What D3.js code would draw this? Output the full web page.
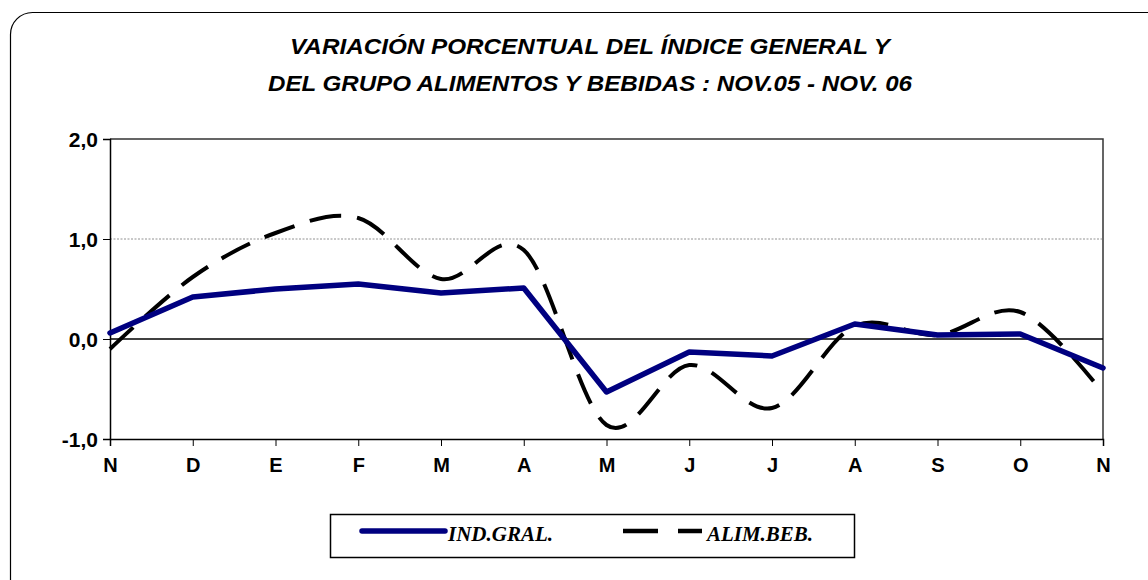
<!DOCTYPE html>
<html>
<head>
<meta charset="utf-8">
<script src="https://cdn.jsdelivr.net/npm/d3@7/dist/d3.min.js"></script>
<style>
  body { margin: 0; background: #fff; }
</style>
</head>
<body>
<div id="chart"></div>
<script>
// data
const months = ["N", "D", "E", "F", "M", "A", "M", "J", "J", "A", "S", "O", "N"];
const indGral = [0.06, 0.42, 0.50, 0.55, 0.46, 0.51, -0.53, -0.13, -0.17, 0.15, 0.04, 0.05, -0.29];
const alimBeb = [-0.10, 0.62, 1.06, 1.21, 0.60, 0.89, -0.86, -0.26, -0.69, 0.13, 0.04, 0.27, -0.54];
const yTicks = [-1, 0, 1, 2];

const width = 1148, height = 580;
const plotLeft = 110, plotRight = 1103, plotTop = 139, plotBottom = 439;

const svg = d3.select("#chart").append("svg")
  .attr("width", width)
  .attr("height", height);

// outer frame with rounded corners
svg.append("rect")
  .attr("x", 10.5).attr("y", 12.5)
  .attr("width", 1160).attr("height", 600)
  .attr("rx", 22)
  .attr("fill", "none")
  .attr("stroke", "#000")
  .attr("stroke-width", 1.2);

// title
const titleFont = "'Liberation Sans Narrow', 'Arial Narrow', 'Liberation Sans', sans-serif";
const title = svg.append("g")
  .attr("font-family", titleFont)
  .attr("font-style", "italic")
  .attr("font-weight", "bold")
  .attr("font-size", 22)
  .attr("text-anchor", "middle");
title.append("text").attr("x", 590).attr("y", 54)
  .attr("textLength", 600).attr("lengthAdjust", "spacingAndGlyphs")
  .text("VARIACIÓN PORCENTUAL DEL ÍNDICE GENERAL Y");
title.append("text").attr("x", 590).attr("y", 91)
  .attr("textLength", 644).attr("lengthAdjust", "spacingAndGlyphs")
  .text("DEL GRUPO ALIMENTOS Y BEBIDAS : NOV.05 - NOV. 06");

const x = d3.scalePoint()
  .domain(d3.range(months.length))
  .range([plotLeft, plotRight]);

const y = d3.scaleLinear()
  .domain([-1, 2])
  .range([plotBottom, plotTop]);

// plot frame (top and right)
svg.append("path")
  .attr("d", `M${plotLeft},${plotTop}H${plotRight}V${plotBottom}`)
  .attr("fill", "none")
  .attr("stroke", "#333")
  .attr("stroke-width", 1.5);

// gridline at 1.0
svg.append("line")
  .attr("x1", plotLeft).attr("x2", plotRight)
  .attr("y1", y(1)).attr("y2", y(1))
  .attr("stroke", "#777")
  .attr("stroke-width", 0.8)
  .attr("stroke-dasharray", "2,1.5");

// zero line
svg.append("line")
  .attr("x1", plotLeft).attr("x2", plotRight)
  .attr("y1", y(0)).attr("y2", y(0))
  .attr("stroke", "#000")
  .attr("stroke-width", 1.5);

// y axis
const yAxis = svg.append("g")
  .attr("transform", `translate(${plotLeft},0)`)
  .call(d3.axisLeft(y).tickValues(yTicks).tickSize(7).tickPadding(5)
    .tickFormat(d => d3.format(".1f")(d).replace(".", ",").replace("−", "-")));

// x axis
const xAxis = svg.append("g")
  .attr("transform", `translate(0,${plotBottom})`)
  .call(d3.axisBottom(x).tickSize(7).tickPadding(19).tickFormat(i => months[i]));

[yAxis, xAxis].forEach(g => {
  g.attr("font-family", "'Liberation Sans', Arial, sans-serif");
  g.select(".domain").attr("stroke", "#000").attr("stroke-width", 1.5);
  g.selectAll(".tick line").attr("stroke", "#000").attr("stroke-width", 1);
  g.selectAll("text")
    .attr("fill", "#000")
    .attr("font-weight", "bold")
    .attr("dy", "0.35em");
});
yAxis.attr("font-size", 21);
xAxis.attr("font-size", 20);

// lines
const lineStraight = d3.line()
  .x((d, i) => x(i))
  .y(d => y(d));

const lineSmooth = d3.line()
  .x((d, i) => x(i))
  .y(d => y(d))
  .curve(d3.curveCardinal.tension(0));

svg.append("path")
  .datum(alimBeb)
  .attr("d", lineSmooth)
  .attr("fill", "none")
  .attr("stroke", "#000")
  .attr("stroke-width", 4)
  .attr("stroke-dasharray", "32,16");

svg.append("path")
  .datum(indGral)
  .attr("d", lineStraight)
  .attr("fill", "none")
  .attr("stroke", "#000080")
  .attr("stroke-width", 5.5)
  .attr("stroke-linejoin", "round")
  .attr("stroke-linecap", "round");

// legend
const legend = svg.append("g");
legend.append("rect")
  .attr("x", 330.5).attr("y", 514.5)
  .attr("width", 524).attr("height", 43)
  .attr("fill", "#fff")
  .attr("stroke", "#000")
  .attr("stroke-width", 1.5);

legend.append("line")
  .attr("x1", 362).attr("x2", 445)
  .attr("y1", 531).attr("y2", 531)
  .attr("stroke", "#000080")
  .attr("stroke-width", 5.5)
  .attr("stroke-linecap", "round");

legend.append("line")
  .attr("x1", 623).attr("x2", 702)
  .attr("y1", 531).attr("y2", 531)
  .attr("stroke", "#000")
  .attr("stroke-width", 4.5)
  .attr("stroke-dasharray", "35,20,24");

legend.selectAll("text.lab")
  .data([["IND.GRAL.", 448, 105], ["ALIM.BEB.", 707, 106]])
  .join("text")
  .attr("class", "lab")
  .attr("x", d => d[1])
  .attr("y", 541)
  .attr("textLength", d => d[2])
  .attr("lengthAdjust", "spacingAndGlyphs")
  .attr("font-family", "'Liberation Serif', 'Times New Roman', serif")
  .attr("font-style", "italic")
  .attr("font-weight", "bold")
  .attr("font-size", 20)
  .attr("fill", "#000")
  .text(d => d[0]);
</script>
</body>
</html>
